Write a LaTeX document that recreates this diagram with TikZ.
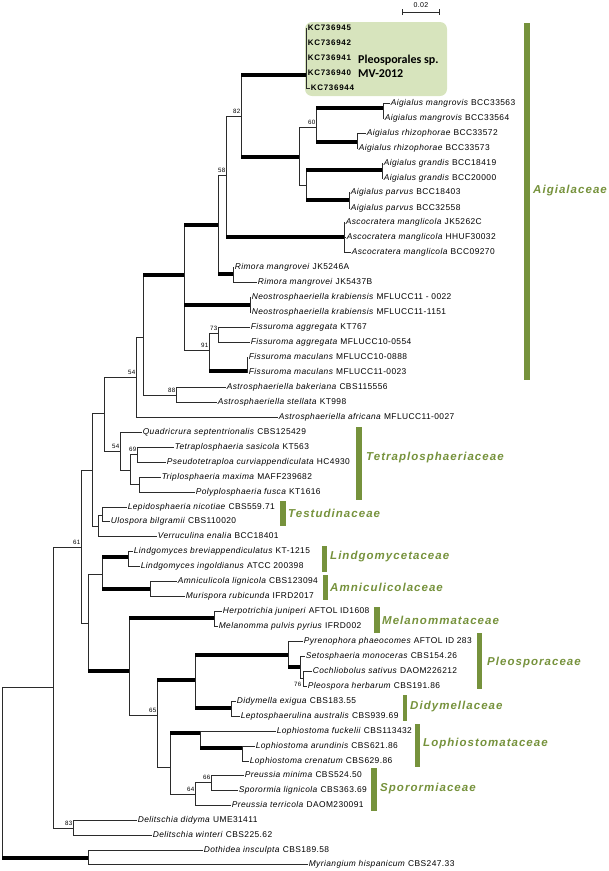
\documentclass[tikz,border=0pt]{standalone}
\usepackage{fontspec}
\setmainfont{Liberation Sans}
\newfontfamily\leaffont[LetterSpace=5]{Liberation Sans}
\newfontfamily\kcfont[LetterSpace=9]{Liberation Sans}
\newfontfamily\famfont[LetterSpace=9]{Liberation Sans}
\newfontfamily\boxfont{Carlito}
\usepackage{tikz}
\usetikzlibrary{positioning}
\definecolor{FamGreen}{HTML}{76923C}
\definecolor{CladeFill}{HTML}{D7E4BD}
\definecolor{TreeGray}{HTML}{2B2B2B}

\begin{document}
\begin{tikzpicture}[x=1pt, y=-1pt,
  br/.style={line width=0.75pt, draw=TreeGray},
  tbr/.style={line width=4.5pt, draw=black},
  leaf/.style={anchor=west, inner xsep=0.6pt, inner ysep=0pt, text height=5.8pt, text depth=1.6pt, font=\leaffont\fontsize{8.4}{9}\selectfont},
  kcleaf/.style={leaf, font=\kcfont\bfseries\fontsize{8}{9}\selectfont},
  boot/.style={anchor=south east, inner sep=0.4pt, yshift=2pt, font=\leaffont\fontsize{6.2}{7}\selectfont},
  fambar/.style={fill=FamGreen},
  famname/.style={anchor=west, inner sep=0pt, text=FamGreen, font=\famfont\bfseries\itshape\fontsize{11.5}{13}\selectfont}]
  \useasboundingbox (0,0) rectangle (609,871);

  % highlighted clade
  \fill[CladeFill, rounded corners=7pt] (305,22) rectangle (447,96);
  \node[anchor=west, align=left, inner sep=0pt, font=\boxfont\bfseries\fontsize{12}{13.5}\selectfont] (pleosp) at (358,66.5) {Pleosporales sp.\\MV-2012};

  % scale bar
  \coordinate (sbl) at (402,12);
  \coordinate (sbr) at (439,12);
  \draw[br] (sbl) -- (sbr);
  \draw[br] ([yshift=3pt]sbl) -- ([yshift=-3pt]sbl);
  \draw[br] ([yshift=3pt]sbr) -- ([yshift=-3pt]sbr);
  \node[inner sep=0pt, font=\leaffont\fontsize{7}{8}\selectfont] (sblab) at (421,5) {0.02};

  % internal nodes
  \coordinate (root) at (2,687);
  \coordinate (nA) at (53,687);
  \coordinate (n61) at (81,547);
  \coordinate (nD) at (92,470);
  \coordinate (nE) at (104,413);
  \coordinate (n54a) at (136,377);
  \coordinate (nG) at (143,337);
  \coordinate (nH) at (184,275);
  \coordinate (nL) at (218,225);
  \coordinate (n58) at (226,175);
  \coordinate (n82) at (241,116);
  \coordinate (nKC) at (306,75);
  \coordinate (nI) at (299,157);
  \coordinate (n60) at (316,127);
  \coordinate (nMang) at (383,108);
  \coordinate (nRhiz) at (357,142);
  \coordinate (nJ) at (306,185);
  \coordinate (nGran) at (382,170);
  \coordinate (nParv) at (349,200);
  \coordinate (nAsco) at (344,237);
  \coordinate (nRim) at (233,274);
  \coordinate (nNeo) at (250,305);
  \coordinate (n91) at (209,350);
  \coordinate (n73) at (218,333);
  \coordinate (nMac) at (247,371);
  \coordinate (n88) at (176,395);
  \coordinate (n54b) at (120,451);
  \coordinate (nM) at (130,470);
  \coordinate (n69) at (137,454);
  \coordinate (nTri) at (139,484);
  \coordinate (nT) at (98,526);
  \coordinate (nLep) at (102,515);
  \coordinate (nB) at (88,623);
  \coordinate (nLA) at (102,574);
  \coordinate (nLind) at (128,557);
  \coordinate (nAmni) at (150,589);
  \coordinate (nC) at (129,671);
  \coordinate (nMel) at (214,618);
  \coordinate (n65) at (157,715);
  \coordinate (nPD) at (195,680);
  \coordinate (nPleo) at (288,655);
  \coordinate (nSeto) at (300,667);
  \coordinate (n76) at (303,678);
  \coordinate (nDid) at (231,708);
  \coordinate (nLS) at (170,767);
  \coordinate (nLoph) at (200,733);
  \coordinate (nArun) at (242,748);
  \coordinate (n64) at (195,794);
  \coordinate (n66) at (211,782);
  \coordinate (n83) at (73,828);
  \coordinate (nDoth) at (88,858);

  % leaves
  \node[kcleaf] (kc45) at (307,28) {KC736945};
  \node[kcleaf] (kc42) at (307,43) {KC736942};
  \node[kcleaf] (kc41) at (307,58) {KC736941};
  \node[kcleaf] (kc40) at (307,73) {KC736940};
  \node[kcleaf] (kc44) at (310,88) {KC736944};
  \node[leaf] (am63) at (390,103) {\textit{Aigialus mangrovis} BCC33563};
  \node[leaf] (am64) at (384,118) {\textit{Aigialus mangrovis} BCC33564};
  \node[leaf] (ar72) at (366,133) {\textit{Aigialus rhizophorae} BCC33572};
  \node[leaf] (ar73) at (358,148) {\textit{Aigialus rhizophorae} BCC33573};
  \node[leaf] (ag19) at (383,163) {\textit{Aigialus grandis} BCC18419};
  \node[leaf] (ag00) at (383,178) {\textit{Aigialus grandis} BCC20000};
  \node[leaf] (ap03) at (350,192) {\textit{Aigialus parvus} BCC18403};
  \node[leaf] (ap58) at (350,208) {\textit{Aigialus parvus} BCC32558};
  \node[leaf] (asc1) at (345,222) {\textit{Ascocratera manglicola} JK5262C};
  \node[leaf] (asc2) at (346,237) {\textit{Ascocratera manglicola} HHUF30032};
  \node[leaf] (asc3) at (351,252) {\textit{Ascocratera manglicola} BCC09270};
  \node[leaf] (rim1) at (234,267) {\textit{Rimora mangrovei} JK5246A};
  \node[leaf] (rim2) at (257,282) {\textit{Rimora mangrovei} JK5437B};
  \node[leaf] (neo1) at (251,297) {\textit{Neostrosphaeriella krabiensis} MFLUCC11 - 0022};
  \node[leaf] (neo2) at (251,312) {\textit{Neostrosphaeriella krabiensis} MFLUCC11-1151};
  \node[leaf] (fa1) at (250,327) {\textit{Fissuroma aggregata} KT767};
  \node[leaf] (fa2) at (250,342) {\textit{Fissuroma aggregata} MFLUCC10-0554};
  \node[leaf] (fm1) at (248,357) {\textit{Fissuroma maculans} MFLUCC10-0888};
  \node[leaf] (fm2) at (248,372) {\textit{Fissuroma maculans} MFLUCC11-0023};
  \node[leaf] (astb) at (226,387) {\textit{Astrosphaeriella bakeriana} CBS115556};
  \node[leaf] (asts) at (217,402) {\textit{Astrosphaeriella stellata} KT998};
  \node[leaf] (afri) at (278,417) {\textit{Astrosphaeriella africana} MFLUCC11-0027};
  \node[leaf] (quad) at (142,432) {\textit{Quadricrura septentrionalis} CBS125429};
  \node[leaf] (tetr) at (174,447) {\textit{Tetraplosphaeria sasicola} KT563};
  \node[leaf] (pseu) at (166,462) {\textit{Pseudotetraploa curviappendiculata} HC4930};
  \node[leaf] (trip) at (161,477) {\textit{Triplosphaeria maxima} MAFF239682};
  \node[leaf] (poly) at (195,492) {\textit{Polyplosphaeria fusca} KT1616};
  \node[leaf] (lepi) at (127,507) {\textit{Lepidosphaeria nicotiae} CBS559.71};
  \node[leaf] (ulos) at (110,521) {\textit{Ulospora bilgramii} CBS110020};
  \node[leaf] (verr) at (157,536) {\textit{Verruculina enalia} BCC18401};
  \node[leaf] (lind1) at (133,551) {\textit{Lindgomyces breviappendiculatus} KT-1215};
  \node[leaf] (lind2) at (140,566) {\textit{Lindgomyces ingoldianus} ATCC 200398};
  \node[leaf] (amni) at (177,581) {\textit{Amniculicola lignicola} CBS123094};
  \node[leaf] (muri) at (185,596) {\textit{Murispora rubicunda} IFRD2017};
  \node[leaf] (herp) at (222,611) {\textit{Herpotrichia juniperi} AFTOL ID1608};
  \node[leaf] (mela) at (218,626) {\textit{Melanomma pulvis pyrius} IFRD002};
  \node[leaf] (pyre) at (303,641) {\textit{Pyrenophora phaeocomes} AFTOL ID 283};
  \node[leaf] (seto) at (305,656) {\textit{Setosphaeria monoceras} CBS154.26};
  \node[leaf] (coch) at (312,671) {\textit{Cochliobolus sativus} DAOM226212};
  \node[leaf] (pleo) at (307,686) {\textit{Pleospora herbarum} CBS191.86};
  \node[leaf] (didy) at (236,701) {\textit{Didymella exigua} CBS183.55};
  \node[leaf] (lept) at (240,716) {\textit{Leptosphaerulina australis} CBS939.69};
  \node[leaf] (fuck) at (276,731) {\textit{Lophiostoma fuckelii} CBS113432};
  \node[leaf] (arun) at (255,746) {\textit{Lophiostoma arundinis} CBS621.86};
  \node[leaf] (cren) at (249,761) {\textit{Lophiostoma crenatum} CBS629.86};
  \node[leaf] (pmin) at (244,775) {\textit{Preussia minima} CBS524.50};
  \node[leaf] (spor) at (238,790) {\textit{Sporormia lignicola} CBS363.69};
  \node[leaf] (terr) at (231,805) {\textit{Preussia terricola} DAOM230091};
  \node[leaf] (deli1) at (137,820) {\textit{Delitschia didyma} UME31411};
  \node[leaf] (deli2) at (152,835) {\textit{Delitschia winteri} CBS225.62};
  \node[leaf] (doth) at (203,850) {\textit{Dothidea insculpta} CBS189.58};
  \node[leaf] (myri) at (308,864) {\textit{Myriangium hispanicum} CBS247.33};

  % branches
  \foreach \p/\c in {root/nA, root/nDoth, nA/n61, nA/n83, n61/nD, n61/nB,
      nD/nE, nD/nT, nE/n54a, nE/n54b, n54a/nG, n54a/afri, nG/nH, nG/n88,
      nH/nL, nH/nNeo, nH/n91, nL/n58, nL/nRim, n58/n82, n58/nAsco,
      n82/nKC, n82/nI, nKC/kc45, nKC/kc42, nKC/kc41, nKC/kc40, nKC/kc44,
      nI/n60, nI/nJ, n60/nMang, n60/nRhiz, nMang/am63, nMang/am64,
      nRhiz/ar72, nRhiz/ar73, nJ/nGran, nJ/nParv, nGran/ag19, nGran/ag00,
      nParv/ap03, nParv/ap58, nAsco/asc1, nAsco/asc2, nAsco/asc3,
      nRim/rim1, nRim/rim2, nNeo/neo1, nNeo/neo2, n91/n73, n91/nMac,
      n73/fa1, n73/fa2, nMac/fm1, nMac/fm2, n88/astb, n88/asts,
      n54b/quad, n54b/nM, nM/n69, nM/nTri, n69/tetr, n69/pseu,
      nTri/trip, nTri/poly, nT/nLep, nT/verr, nLep/lepi, nLep/ulos,
      nB/nLA, nB/nC, nLA/nLind, nLA/nAmni, nLind/lind1, nLind/lind2,
      nAmni/amni, nAmni/muri, nC/nMel, nC/n65, nMel/herp, nMel/mela,
      n65/nPD, n65/nLS, nPD/nPleo, nPD/nDid, nPleo/pyre, nPleo/nSeto,
      nSeto/seto, nSeto/n76, n76/coch, n76/pleo, nDid/didy, nDid/lept,
      nLS/nLoph, nLS/n64, nLoph/fuck, nLoph/nArun, nArun/arun, nArun/cren,
      n64/n66, n64/terr, n66/pmin, n66/spor, n83/deli1, n83/deli2,
      nDoth/doth, nDoth/myri}
    \draw[br] (\p) |- (\c);
  % thick branches
  \foreach \p/\c in {root/nDoth, nG/nH, nH/nL, nH/nNeo, nL/nRim, n58/nAsco,
      n82/nKC, n82/nI, n60/nMang, n60/nRhiz, nJ/nGran, nJ/nParv, n91/nMac,
      nB/nC, nLA/nLind, nLA/nAmni, nC/nMel, n65/nPD, nPD/nPleo, nPD/nDid,
      nPleo/nSeto, nLS/nLoph, nLoph/nArun}
    \draw[tbr] (\p |- \c) -- (\c);

  % bootstrap values
  \node[boot] (b61) at (n61) {61};
  \node[boot] (b54a) at (n54a) {54};
  \node[boot] (b58) at (n58) {58};
  \node[boot] (b82) at (n82) {82};
  \node[boot] (b60) at (n60) {60};
  \node[boot] (b91) at (n91) {91};
  \node[boot] (b73) at (n73) {73};
  \node[boot] (b88) at (n88) {88};
  \node[boot] (b54b) at (n54b) {54};
  \node[boot] (b69) at (n69) {69};
  \node[boot] (b65) at (n65) {65};
  \node[boot] (b64) at (n64) {64};
  \node[boot] (b66) at (n66) {66};
  \node[boot] (b83) at (n83) {83};
  \node[boot, anchor=east, yshift=0pt] (b76) at (302,686) {76};

  % families
  \fill[fambar] (524,23) rectangle (530,380);
  \node[famname] (aigi) at (533,191) {Aigialaceae};
  \fill[fambar] (356,427) rectangle (362,500);
  \node[famname] (tetra) at (366,458) {Tetraplosphaeriaceae};
  \fill[fambar] (280,501) rectangle (286,526);
  \node[famname] (testu) at (288,513) {Testudinaceae};
  \fill[fambar] (322,546) rectangle (327,572);
  \node[famname] (lindg) at (330,557) {Lindgomycetaceae};
  \fill[fambar] (323,575) rectangle (328,600);
  \node[famname] (amnic) at (330,587) {Amniculicolaceae};
  \fill[fambar] (374,607) rectangle (380,633);
  \node[famname] (melan) at (382,620) {Melanommataceae};
  \fill[fambar] (477,633) rectangle (482,689);
  \node[famname] (pleos) at (487,663) {Pleosporaceae};
  \fill[fambar] (403,695) rectangle (407,721);
  \node[famname] (didym) at (410,707) {Didymellaceae};
  \fill[fambar] (415,724) rectangle (420,767);
  \node[famname] (lophi) at (423,744) {Lophiostomataceae};
  \fill[fambar] (371,768) rectangle (377,811);
  \node[famname] (sporo) at (380,789) {Sporormiaceae};
\end{tikzpicture}
\end{document}
